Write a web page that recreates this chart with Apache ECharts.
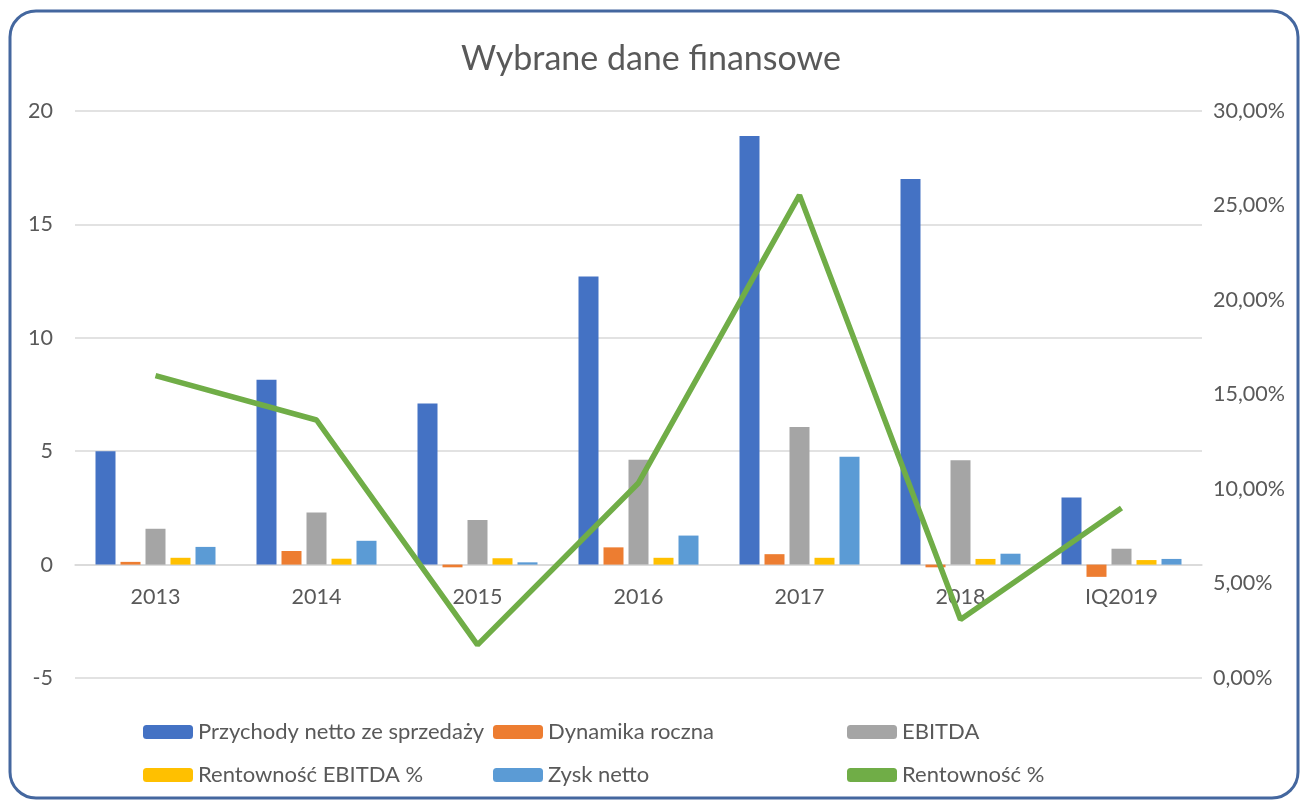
<!DOCTYPE html>
<html>
<head>
<meta charset="utf-8">
<script src="https://cdn.jsdelivr.net/npm/echarts@6/dist/echarts.min.js"></script>
<style>
  html, body { margin: 0; padding: 0; background: #fff; }
  #box { width: 1302px; height: 802px; }
</style>
</head>
<body>
<div id="box"></div>
<script>
const categories = ['2013', '2014', '2015', '2016', '2017', '2018', 'IQ2019']
const przychody = [5.0, 8.15, 7.1, 12.7, 18.9, 17.0, 2.96]
const dynamika = [0.12, 0.6, -0.12, 0.76, 0.46, -0.12, -0.54]
const ebitda = [1.58, 2.3, 1.97, 4.62, 6.07, 4.6, 0.7]
const rentEbitda = [0.3, 0.26, 0.28, 0.3, 0.3, 0.25, 0.2]
const zysk = [0.78, 1.05, 0.1, 1.28, 4.76, 0.48, 0.25]
const rentownosc = [0.16, 0.1365, 0.0175, 0.1032, 0.2555, 0.031, 0.09]
const leftTicks = { min: -5, max: 20, interval: 5 }
const rightTicks = { min: 0, max: 0.3, interval: 0.05 }

const font = 'Lato, "Open Sans", sans-serif'
const txt = '#595959'
const legendText = { fontFamily: font, fontSize: 22, color: txt }

function legendCol(x, names) {
  return {
    orient: 'vertical',
    left: x,
    top: 721,
    padding: 0,
    itemWidth: 50,
    itemHeight: 14,
    itemGap: 21,
    textStyle: legendText,
    data: names
  }
}

function barSeries(name, data, color) {
  return {
    name: name,
    type: 'bar',
    data: data,
    itemStyle: { color: color },
    barWidth: 20,
    barGap: '25%'
  }
}

const myChart = echarts.init(document.getElementById('box'))
myChart.setOption({
  backgroundColor: '#fff',
  animation: false,
  title: {
    text: 'Wybrane dane finansowe',
    left: 'center',
    top: 37,
    textStyle: { fontFamily: font, fontSize: 34, fontWeight: 'normal', color: txt }
  },
  graphic: [{
    type: 'rect',
    shape: { x: 10, y: 11, width: 1288, height: 787, r: 26 },
    style: { fill: 'none', stroke: '#44679f', lineWidth: 3 },
    silent: true
  }],
  legend: [
    legendCol(143, ['Przychody netto ze sprzedaży', 'Rentowność EBITDA %']),
    legendCol(493, ['Dynamika roczna', 'Zysk netto']),
    legendCol(847, ['EBITDA', { name: 'Rentowność %', icon: 'roundRect' }])
  ],
  grid: { left: 75, right: 100, top: 111, bottom: 124 },
  xAxis: {
    type: 'category',
    data: categories,
    // move the category axis up onto the zero line of the left axis
    offset: -113,
    axisLine: { onZero: false, lineStyle: { color: '#d9d9d9', width: 1.5 } },
    axisTick: { show: false },
    axisLabel: { fontFamily: font, fontSize: 21.5, color: txt, margin: 21 }
  },
  yAxis: [
    {
      type: 'value',
      min: leftTicks.min,
      max: leftTicks.max,
      interval: leftTicks.interval,
      axisLine: { show: false },
      axisTick: { show: false },
      splitLine: { lineStyle: { color: '#d9d9d9', width: 1.5 } },
      axisLabel: { fontFamily: font, fontSize: 21.5, color: txt, margin: 22 }
    },
    {
      type: 'value',
      min: rightTicks.min,
      max: rightTicks.max,
      interval: rightTicks.interval,
      axisLine: { show: false },
      axisTick: { show: false },
      splitLine: { show: false },
      axisLabel: {
        fontFamily: font,
        fontSize: 21.5,
        color: txt,
        margin: 11,
        formatter: v => (v * 100).toFixed(2).replace('.', ',') + '%'
      }
    }
  ],
  series: [
    barSeries('Przychody netto ze sprzedaży', przychody, '#4472C4'),
    barSeries('Dynamika roczna', dynamika, '#ED7D31'),
    barSeries('EBITDA', ebitda, '#A5A5A5'),
    barSeries('Rentowność EBITDA %', rentEbitda, '#FFC000'),
    barSeries('Zysk netto', zysk, '#5B9BD5'),
    {
      name: 'Rentowność %',
      type: 'line',
      yAxisIndex: 1,
      data: rentownosc,
      symbol: 'none',
      itemStyle: { color: '#70AD47' },
      lineStyle: { color: '#70AD47', width: 5.5 },
      z: 5
    }
  ]
})
</script>
</body>
</html>
